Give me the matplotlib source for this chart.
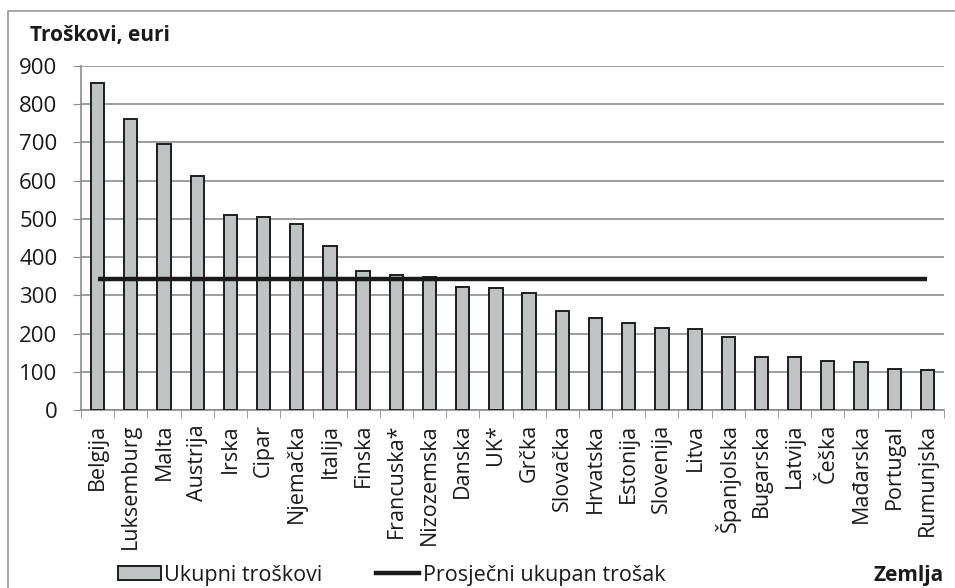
import matplotlib

matplotlib.use('Agg')

import matplotlib.pyplot as plt
import numpy as np
from matplotlib.lines import Line2D
from matplotlib.patches import Patch, Rectangle

# Podaci
countries = ['Belgija', 'Luksemburg', 'Malta', 'Austrija', 'Irska', 'Cipar',
             'Njemačka', 'Italija', 'Finska', 'Francuska*', 'Nizozemska', 'Danska',
             'UK*', 'Grčka', 'Slovačka', 'Hrvatska', 'Estonija', 'Slovenija',
             'Litva', 'Španjolska', 'Bugarska', 'Latvija', 'Češka', 'Mađarska',
             'Portugal', 'Rumunjska']
total_costs = [855, 761, 696, 612, 510, 505, 487, 428, 364, 354, 349, 321,
               319, 307, 258, 241, 227, 215, 213, 190, 138, 138, 128, 126,
               108, 105]
avg_cost = 344
y_ticks = [0, 100, 200, 300, 400, 500, 600, 700, 800, 900]

plt.rcParams['font.family'] = ['Open Sans', 'DejaVu Sans']

W, H = 955, 588
fig = plt.figure(figsize=(W / 100, H / 100), dpi=100)
ax = fig.add_axes([81 / W, 1 - 410 / H, 863 / W, 344 / H])

# Okvir grafikona
fig.patches.append(Rectangle((8 / W, -0.05), 1.0, 1 - 11 / H + 0.05,
                             transform=fig.transFigure, fill=False,
                             edgecolor='#9a9a9a', linewidth=1.2, zorder=0))

x = np.arange(len(countries))
ax.bar(x, total_costs, width=0.4, color='#c0c3c3', edgecolor='#1e1e1e',
       linewidth=1.4, zorder=3)
ax.plot(x, [avg_cost] * len(countries), color='#1a1a1a', linewidth=3.2,
        solid_capstyle='butt', zorder=4)

ax.set_xlim(-0.5, len(countries) - 0.5)
ax.set_ylim(0, 900)
ax.set_yticks(y_ticks)
ax.tick_params(axis='y', labelsize=16, length=6, color='#8c8c8c', pad=11,
               labelcolor='#1a1a1a')
ax.yaxis.grid(True, color='#8c8c8c', linewidth=1.2, zorder=0)

ax.set_xticks(x)
ax.set_xticklabels(countries, rotation=90, fontsize=15.5, color='#1a1a1a')
ax.set_xticks(np.arange(-0.5, len(countries)), minor=True)
ax.tick_params(axis='x', which='major', length=0, pad=10)
ax.tick_params(axis='x', which='minor', length=6, color='#8c8c8c')

for side in ['top', 'right']:
    ax.spines[side].set_visible(False)
for side in ['left', 'bottom']:
    ax.spines[side].set_color('#8c8c8c')
    ax.spines[side].set_linewidth(1.2)

fig.text(30 / W, 1 - 36 / H, 'Troškovi, euri', fontsize=15, fontweight='bold',
         va='center', ha='left', color='#1a1a1a')
fig.text(944 / W, 1 - 575 / H, 'Zemlja', fontsize=15, fontweight='bold',
         va='center', ha='right', color='#1a1a1a')

handles = [Patch(facecolor='#c0c3c3', edgecolor='#1e1e1e', linewidth=1.4),
           Line2D([0], [0], color='#1a1a1a', linewidth=3.2)]
fig.legend(handles, ['Ukupni troškovi', 'Prosječni ukupan trošak'],
           loc='center left', bbox_to_anchor=(118 / W, 1 - 575 / H), ncol=2,
           frameon=False, fontsize=15.5, handlelength=2.0, handleheight=0.65,
           handletextpad=0.15, columnspacing=2.5, borderpad=0, borderaxespad=0,
           labelcolor='#1a1a1a')

fig.savefig('out.png', dpi=100)
